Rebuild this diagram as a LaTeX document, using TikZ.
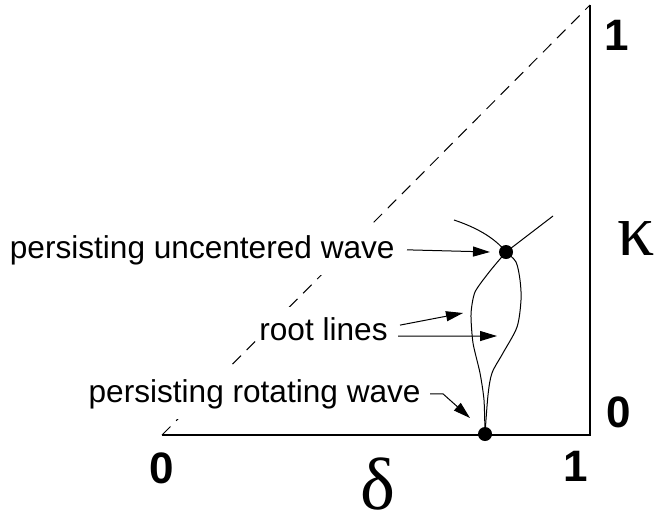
\documentclass[tikz,border=0pt]{standalone}
\usepackage{fontspec}
\setmainfont{Liberation Sans}
\newfontfamily\greekfont{Liberation Serif}
\usetikzlibrary{arrows.meta}

\begin{document}
\begin{tikzpicture}[x=0.5pt, y=-0.5pt, >={Triangle[length=8.5pt,width=5pt]},
    lab/.style={fill=white, inner xsep=0pt, inner ysep=5pt,
                font=\fontsize{15.8}{18}\selectfont},
    num/.style={inner sep=0pt, font=\fontsize{22}{24}\selectfont\bfseries},
    greek/.style={inner sep=0pt, font=\fontsize{37}{40}\selectfont\greekfont},
    axis/.style={line width=1pt, line join=miter},
    diag/.style={line width=0.5pt, dash pattern=on 6pt off 4pt},
    rootline/.style={line width=0.5pt},
    ptr/.style={->, line width=0.5pt},
    dot/.style={circle, fill=black, inner sep=0pt, minimum size=7pt}]

\useasboundingbox (0,0) rectangle (657,515);

% Triangle of parameters
\coordinate (o) at (162,435);
\coordinate (a) at (590,435);
\coordinate (b) at (590,5);
\draw[diag] (o) -- (b);
\draw[axis] (o) -- (a) -- (b);

% Root lines between the two waves
\coordinate (unc) at (506,252);
\coordinate (rot) at (485,434);
\draw[rootline] plot[smooth, tension=0.4] coordinates
  {(unc) (490,271) (475,292) (471,314) (473,343) (480,373) (484,400) (rot)};
\draw[rootline] plot[smooth, tension=0.5] coordinates
  {(unc) (516,262) (520,280) (521,300) (517,327) (503,353) (492,373) (488,395) (rot)};
\draw[rootline] (454,220) .. controls (475,227) and (494,237) .. (unc);
\draw[rootline] (unc) -- (553,216);

\node[dot] (dotunc) at (unc) {};
\node[dot] (dotrot) at (rot) {};

% Axis values and names
\node[num] (ktop) at (617,35)  {1};
\node[num] (kbot) at (619,412) {0};
\node[num] (dlft) at (162,468) {0};
\node[num] (drgt) at (576,466) {1};
\node[greek, anchor=base] (kappa) at (636,255) {κ};
\node[greek, anchor=base] (delta) at (378,509) {δ};

% Labels
\node[lab, anchor=base east] (lblunc)  at (395,258) {persisting uncentered wave};
\node[lab, anchor=base east] (lblroot) at (388,340) {root lines};
\node[lab, anchor=base east] (lblrot)  at (421,402) {persisting rotating wave};

\coordinate (uncTip)   at (490,252);
\coordinate (rootTipA) at (463,313);
\coordinate (rootTipB) at (497,336);
\coordinate (rotTip)   at (470,418);

\draw[ptr] ([xshift=6pt]lblunc.east) -- (uncTip);
\draw[ptr] ([xshift=6pt, yshift=1.8pt]lblroot.east) -- (rootTipA);
\draw[ptr] ([xshift=5pt, yshift=-3.7pt]lblroot.east) -- (rootTipB);
\draw[ptr] ([xshift=4.5pt]lblrot.east) -- ++(13,0) -- (rotTip);

\end{tikzpicture}
\end{document}
